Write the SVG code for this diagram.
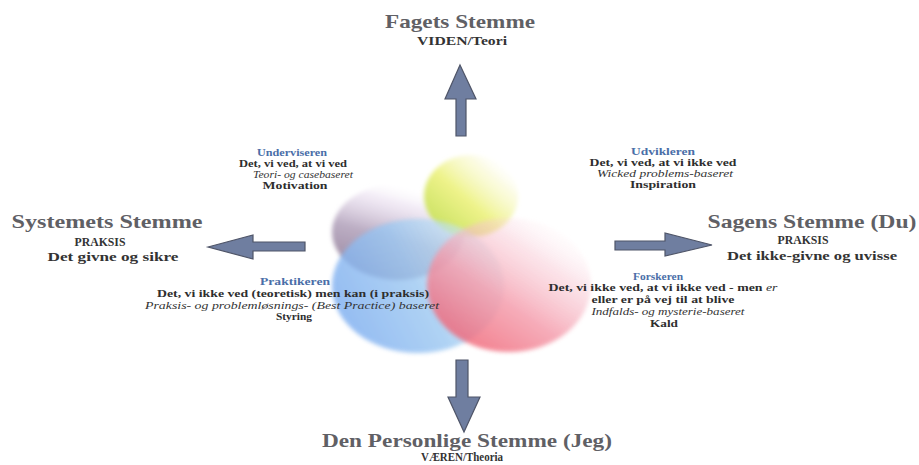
<svg xmlns="http://www.w3.org/2000/svg" width="919" height="465" viewBox="0 0 919 465">
<defs>
<style>
.title{font-family:"Liberation Serif","Times New Roman",serif;font-weight:bold;font-size:19px;fill:#606065;text-anchor:middle}
.sub{font-family:"Liberation Serif","Times New Roman",serif;font-weight:bold;font-size:11.5px;fill:#333;text-anchor:middle}
.role{font-family:"Liberation Serif","Times New Roman",serif;font-weight:bold;font-size:10px;fill:#4a6ea8;text-anchor:middle}
.line{font-family:"Liberation Serif","Times New Roman",serif;font-weight:bold;font-size:10.5px;fill:#2e2e2e;text-anchor:middle}
.it{font-family:"Liberation Serif","Times New Roman",serif;font-style:italic;font-size:10.5px;fill:#333;text-anchor:middle}
.arrow{fill:#6f7ea0;stroke:#4f5568;stroke-width:1.2;stroke-linejoin:miter}
.soft{filter:url(#blur)}
</style>
<filter id="blur" x="-20%" y="-20%" width="140%" height="140%">
<feGaussianBlur stdDeviation="2"/>
</filter>
<linearGradient id="gMauve" x1="0.2" y1="0.95" x2="0.55" y2="0">
<stop offset="0" stop-color="#9a88a0"/>
<stop offset="0.45" stop-color="#bcaec4"/>
<stop offset="0.8" stop-color="#eadff0" stop-opacity="0.6"/>
<stop offset="1" stop-color="#ffffff" stop-opacity="0"/>
</linearGradient>
<linearGradient id="gYellow" x1="0.1" y1="0.9" x2="0.9" y2="0.1">
<stop offset="0" stop-color="#c8e060"/>
<stop offset="0.45" stop-color="#eef38a"/>
<stop offset="0.8" stop-color="#f8f8c8" stop-opacity="0.5"/>
<stop offset="1" stop-color="#ffffff" stop-opacity="0"/>
</linearGradient>
<linearGradient id="gBlue" x1="0" y1="0.7" x2="1" y2="0.3">
<stop offset="0" stop-color="#78aaf0"/>
<stop offset="0.5" stop-color="#9cc8f2"/>
<stop offset="1" stop-color="#d2f0f6" stop-opacity="0.7"/>
</linearGradient>
<linearGradient id="gRed" x1="0.15" y1="0.95" x2="0.9" y2="0.05">
<stop offset="0" stop-color="#f05a6c"/>
<stop offset="0.4" stop-color="#f49aaa"/>
<stop offset="0.72" stop-color="#f8c8d4" stop-opacity="0.6"/>
<stop offset="1" stop-color="#ffffff" stop-opacity="0"/>
</linearGradient>
</defs>
<rect width="919" height="465" fill="#ffffff"/>

<g id="circles">
<ellipse class="soft" cx="398" cy="232" rx="66" ry="48" fill="url(#gMauve)"/>
<ellipse class="soft" cx="471" cy="196" rx="47" ry="41" fill="url(#gYellow)"/>
<ellipse class="soft" cx="418" cy="286" rx="86" ry="67" fill="url(#gBlue)" opacity="0.8"/>
<ellipse class="soft" cx="509" cy="285" rx="82" ry="67" fill="url(#gRed)" opacity="0.8"/>
</g>

<g id="connectors">
<polygon class="arrow" points="460,65 476,99 466,99 466,136 456,136 456,99 445,99"/>
<polygon class="arrow" points="208,247 253,235 253,242 305,242 305,251 253,251 253,259"/>
<polygon class="arrow" points="712,245 665,233 665,241 615,241 615,250 665,250 665,256"/>
<polygon class="arrow" points="464,432 480,397 468,397 468,360 456,360 456,397 448,397"/>
</g>

<g id="fagets">
<text class="title" x="460" y="28" textLength="150" lengthAdjust="spacingAndGlyphs">Fagets Stemme</text>
<text class="sub" x="462" y="45" textLength="90" lengthAdjust="spacingAndGlyphs">VIDEN/Teori</text>
</g>

<g id="systemets">
<text class="title" x="107" y="228" textLength="191" lengthAdjust="spacingAndGlyphs">Systemets Stemme</text>
<text class="sub" x="100" y="246" textLength="51" lengthAdjust="spacingAndGlyphs">PRAKSIS</text>
<text class="sub" x="113" y="261" textLength="131" lengthAdjust="spacingAndGlyphs">Det givne og sikre</text>
</g>

<g id="sagens">
<text class="title" x="812" y="228" textLength="209" lengthAdjust="spacingAndGlyphs">Sagens Stemme (Du)</text>
<text class="sub" x="803" y="244" textLength="51" lengthAdjust="spacingAndGlyphs">PRAKSIS</text>
<text class="sub" x="812" y="260" textLength="170" lengthAdjust="spacingAndGlyphs">Det ikke-givne og uvisse</text>
</g>

<g id="personlige">
<text class="title" x="467" y="447" textLength="290" lengthAdjust="spacingAndGlyphs">Den Personlige Stemme (Jeg)</text>
<text class="sub" x="462" y="461" textLength="82" lengthAdjust="spacingAndGlyphs">VÆREN/Theoria</text>
</g>

<g id="underviseren">
<text class="role" x="292" y="156" textLength="70" lengthAdjust="spacingAndGlyphs">Underviseren</text>
<text class="line" x="293" y="167" textLength="108" lengthAdjust="spacingAndGlyphs">Det, vi ved, at vi ved</text>
<text class="it" x="303" y="178" textLength="100" lengthAdjust="spacingAndGlyphs">Teori- og casebaseret</text>
<text class="line" x="295" y="189" textLength="65" lengthAdjust="spacingAndGlyphs">Motivation</text>
</g>

<g id="udvikleren">
<text class="role" x="663" y="155" textLength="64" lengthAdjust="spacingAndGlyphs">Udvikleren</text>
<text class="line" x="663" y="166" textLength="147" lengthAdjust="spacingAndGlyphs">Det, vi ved, at vi ikke ved</text>
<text class="it" x="665" y="177" textLength="136" lengthAdjust="spacingAndGlyphs">Wicked problems-baseret</text>
<text class="line" x="663" y="188" textLength="66" lengthAdjust="spacingAndGlyphs">Inspiration</text>
</g>

<g id="praktikeren">
<text class="role" x="295" y="285" textLength="70" lengthAdjust="spacingAndGlyphs">Praktikeren</text>
<text class="line" x="293" y="297" textLength="272" lengthAdjust="spacingAndGlyphs">Det, vi ikke ved (teoretisk) men kan (i praksis)</text>
<text class="it" x="292" y="309" textLength="294" lengthAdjust="spacingAndGlyphs">Praksis- og problemløsnings- (Best Practice) baseret</text>
<text class="line" x="294" y="320" textLength="36" lengthAdjust="spacingAndGlyphs">Styring</text>
</g>

<g id="forskeren">
<text class="role" x="658" y="280" textLength="50" lengthAdjust="spacingAndGlyphs">Forskeren</text>
<text class="line" x="663" y="291" textLength="229" lengthAdjust="spacingAndGlyphs">Det, vi ikke ved, at vi ikke ved - men <tspan font-style="italic" font-weight="normal">er</tspan></text>
<text class="line" x="663" y="303" textLength="143" lengthAdjust="spacingAndGlyphs">eller er på vej til at blive</text>
<text class="it" x="668" y="315" textLength="153" lengthAdjust="spacingAndGlyphs">Indfalds- og mysterie-baseret</text>
<text class="line" x="664" y="327" textLength="28" lengthAdjust="spacingAndGlyphs">Kald</text>
</g>
</svg>
